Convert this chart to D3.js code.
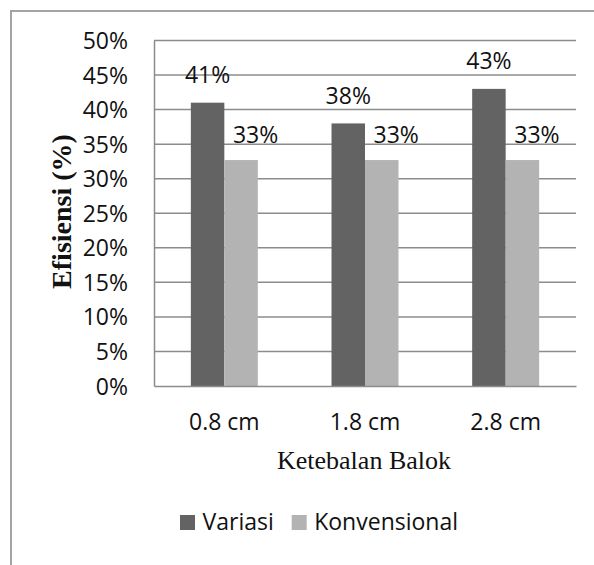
<!DOCTYPE html>
<html>
<head>
<meta charset="utf-8">
<script src="https://cdn.jsdelivr.net/npm/d3@7"></script>
<style>
  html, body { margin: 0; padding: 0; background: #fff; }
  svg { display: block; }
</style>
</head>
<body>
<svg id="chart" width="594" height="565"></svg>
<script>
const categories = ["0.8 cm", "1.8 cm", "2.8 cm"];
const seriesNames = ["Variasi", "Konvensional"];
const variasi = [0.41, 0.38, 0.43];
const konvensional = [0.327, 0.327, 0.327];
const yTicks = [0, 0.05, 0.10, 0.15, 0.20, 0.25, 0.30, 0.35, 0.40, 0.45, 0.50];
const colors = ["#636363", "#b3b3b3"];

const svg = d3.select("#chart");
const sansFont = "'Open Sans', 'Noto Sans', sans-serif";
const serifFont = "'Liberation Serif', 'DejaVu Serif', serif";

// outer chart border (only left and top visible)
svg.append("line").attr("x1", 11).attr("y1", 11).attr("x2", 11).attr("y2", 565)
  .attr("stroke", "#a3a3a3").attr("stroke-width", 2);
svg.append("line").attr("x1", 10).attr("y1", 11).attr("x2", 594).attr("y2", 11)
  .attr("stroke", "#a3a3a3").attr("stroke-width", 2);

const plot = { left: 154, right: 576, top: 40.5, bottom: 386 };

const y = d3.scaleLinear().domain([0, 0.5]).range([plot.bottom, plot.top]);
const x0 = d3.scaleBand().domain(categories).range([plot.left, plot.right]).padding(0);
const x1 = d3.scaleBand().domain(seriesNames).range([0, x0.bandwidth()])
  .paddingInner(0).paddingOuter(1.1);

// gridlines
svg.append("g").selectAll("line").data(yTicks.filter(d => d > 0)).join("line")
  .attr("x1", plot.left).attr("x2", plot.right)
  .attr("y1", d => y(d)).attr("y2", d => y(d))
  .attr("stroke", "#8c8c8c").attr("stroke-width", 1.5);

// bars
const data = categories.map((c, i) => ({ cat: c, vals: [variasi[i], konvensional[i]] }));
const groups = svg.append("g").selectAll("g").data(data).join("g")
  .attr("transform", d => `translate(${x0(d.cat)},0)`);
groups.selectAll("rect").data(d => d.vals.map((v, j) => ({ name: seriesNames[j], v, j })))
  .join("rect")
  .attr("x", d => x1(d.name))
  .attr("width", x1.bandwidth())
  .attr("y", d => y(d.v))
  .attr("height", d => y(0) - y(d.v))
  .attr("fill", d => colors[d.j]);

// data labels
groups.selectAll("text").data(d => d.vals.map((v, j) => ({ name: seriesNames[j], v, j })))
  .join("text")
  .attr("x", d => x1(d.name) + x1.bandwidth() / 2 + (d.j === 1 ? 14.5 : 0))
  .attr("y", d => y(d.v) - (d.j === 0 ? 19.5 : 16.8))
  .attr("text-anchor", "middle")
  .attr("font-family", sansFont).attr("font-size", 23).attr("fill", "#111")
  .text(d => d3.format(".0%")(d.v));

// y axis
const yAxis = d3.axisLeft(y).tickValues(yTicks).tickFormat(d3.format(".0%")).tickSize(0).tickPadding(26);
const gy = svg.append("g").attr("transform", `translate(${plot.left},0)`).call(yAxis);
gy.select(".domain").attr("stroke", "#8c8c8c").attr("stroke-width", 1.5);
gy.selectAll("text").attr("font-family", sansFont).attr("font-size", 23).attr("fill", "#111")
  .attr("dy", "0.35em");

// x axis
const xAxis = d3.axisBottom(x0).tickSize(0).tickPadding(28);
const gx = svg.append("g").attr("transform", `translate(0,${plot.bottom})`).call(xAxis);
gx.select(".domain").attr("stroke", "#8c8c8c").attr("stroke-width", 1.5);
gx.selectAll("text").attr("font-family", sansFont).attr("font-size", 23).attr("fill", "#111")
  .attr("dy", "0.71em");

// axis titles
svg.append("text")
  .attr("transform", "translate(70.5,211.5) rotate(-90)")
  .attr("text-anchor", "middle")
  .attr("font-family", serifFont).attr("font-weight", "bold").attr("font-size", 28).attr("fill", "#111")
  .text("Efisiensi (%)");
svg.append("text")
  .attr("x", 364).attr("y", 469)
  .attr("text-anchor", "middle")
  .attr("font-family", serifFont).attr("font-size", 26).attr("fill", "#111")
  .text("Ketebalan Balok");

// legend
const legendItems = [
  { name: seriesNames[0], color: colors[0], x: 180 },
  { name: seriesNames[1], color: colors[1], x: 291.7 }
];
const lg = svg.append("g").selectAll("g").data(legendItems).join("g")
  .attr("transform", d => `translate(${d.x},515)`);
lg.append("rect").attr("width", 15).attr("height", 15).attr("fill", d => d.color);
lg.append("text").attr("x", 22.5).attr("y", 14.5)
  .attr("font-family", sansFont).attr("font-size", 23).attr("fill", "#111")
  .text(d => d.name);
</script>
</body>
</html>
